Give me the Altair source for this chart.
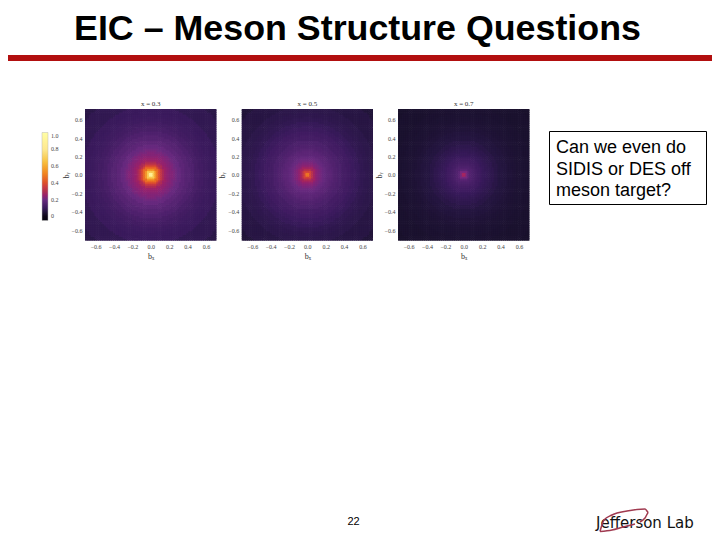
import numpy as np
import pandas as pd
import altair as alt

W, H = 704, 526
OX, OY = 8, 8
SERIF = "Liberation Serif"
SANS = "Liberation Sans"

radii = [0, .02, .04, .06, .08, .10, .12, .14, .16, .18, .20, .225, .25, .275, .30, .35, .40, .45, .50, .55, .60, .65, .70, .80, 1.05]
profile_03 = [1.0, .86, .68, .55, .46, .39, .33, .29, .26, .245, .235, .225, .215, .205, .195, .175, .16, .145, .13, .12, .11, .105, .10, .085, .07]
profile_05 = [.58, .47, .37, .31, .27, .24, .225, .215, .205, .195, .185, .175, .17, .16, .15, .14, .125, .115, .105, .095, .085, .08, .075, .065, .05]
profile_07 = [.34, .27, .21, .17, .15, .14, .13, .125, .115, .11, .10, .095, .09, .085, .08, .07, .06, .055, .05, .045, .042, .04, .038, .035, .03]

panel_titles = ["x = 0.3", "x = 0.5", "x = 0.7"]
panel_left = [85, 241.7, 398]
panel_right = [216.5, 373, 529.5]
panel_top, panel_bottom = 109, 240.7
ticks = [-0.6, -0.4, -0.2, 0.0, 0.2, 0.4, 0.6]
legend_ticks = [0, .2, .4, .6, .8, 1.0]
color_stops = [-0.05, 0, .1, .2, .3, .4, .5, .65, .8, 1.0]
color_range = ["#05030f", "#0d0618", "#3a1a5c", "#6a2a80", "#b0304f", "#dd4f2a", "#f08020", "#f8c040", "#fde890", "#ffffff"]
LIM = 0.715
OVERLAP = 0.007

box_lines = ["Can we even do", "SIDIS or DES off", "meson target?"]
swoosh_x = [600, 604, 612, 627, 645, 648.5, 645, 640]
swoosh_y = [531.5, 520, 515, 511, 509, 512.5, 518, 522]
swoosh2_x = [600, 612, 623, 635]
swoosh2_y = [531.5, 530, 527, 524]

edges = np.linspace(-LIM, LIM, 71)
centres = (edges[:-1] + edges[1:]) / 2


def cells(profile):
    rows = []
    r_arr = np.array(radii)
    for i, cx in enumerate(centres):
        for j, cy in enumerate(centres):
            r = float(np.hypot(cx, cy))
            v = profile[int(np.abs(r_arr - r).argmin())]
            x1 = min(edges[i + 1] + OVERLAP, LIM)
            y1 = min(edges[j + 1] + OVERLAP, LIM)
            rows.append((round(edges[i], 4), round(x1, 4), round(edges[j], 4), round(y1, 4), v))
    return pd.DataFrame(rows, columns=["x0", "x1", "y0", "y1", "v"])


def axfmt():
    return "replace(format(datum.value, '.1f'), '-', '\u2212')"


cscale = alt.Scale(domain=color_stops, range=color_range)
color = alt.Color(
    "v:Q",
    scale=cscale,
    legend=alt.Legend(
        type="gradient", orient="none", legendX=42 - OX, legendY=132.5 - OY, title=None, direction="vertical",
        gradientLength=88, gradientThickness=6, values=legend_ticks, labelFont=SERIF, labelFontSize=6,
        labelColor="#444444", labelOffset=3, gradientStrokeColor="#bbbbbb", gradientStrokeWidth=0.5,
        labelExpr="datum.value == 0 ? '0' : format(datum.value, '.1f')",
    ),
)


def panel(profile, i):
    xs = alt.Scale(domain=[-LIM, LIM], range=[panel_left[i] - OX, panel_right[i] - OX], nice=False)
    ys = alt.Scale(domain=[-LIM, LIM], range=[panel_bottom - OY, panel_top - OY], nice=False)
    return alt.Chart(cells(profile)).mark_rect(stroke=None).encode(
        x=alt.X("x0:Q", scale=xs, axis=alt.Axis(
            values=ticks, orient="bottom", offset=panel_bottom - OY - H, labelExpr=axfmt(), labelFont=SERIF,
            labelFontSize=6, labelColor="#444444", domain=False, ticks=False, grid=False, labelPadding=3,
            title="b\u2093", titleFont=SERIF, titleFontSize=8, titleFontWeight="normal", titleColor="#333333", titlePadding=3,
            labelFlush=False, labelOverlap=False)),
        x2="x1:Q",
        y=alt.Y("y0:Q", scale=ys, axis=alt.Axis(
            values=ticks, orient="left", offset=-(panel_left[i] - OX), labelExpr=axfmt(), labelFont=SERIF,
            labelFontSize=6, labelColor="#444444", domain=False, ticks=False, grid=False, labelPadding=3,
            title="b\u1d67", titleFont=SERIF, titleFontSize=8, titleFontWeight="normal", titleColor="#333333", titlePadding=1,
            labelFlush=False, labelOverlap=False)),
        y2="y1:Q",
        color=color,
    )


one = alt.Data(values=[{}])


def text(s, x, y, size, font=SANS, weight="normal", align="left", col="#000000", baseline="alphabetic"):
    return alt.Chart(one).mark_text(
        text=s, font=font, fontSize=size, fontWeight=weight, align=align, color=col, baseline=baseline
    ).encode(x=alt.value(x - OX), y=alt.value(y - OY))


layers = [
    panel(profile_03, 0),
    panel(profile_05, 1),
    panel(profile_07, 2),
]
bar = alt.Chart(one).mark_rect(color="#b20f0f").encode(
    x=alt.value(0), x2=alt.value(W), y=alt.value(55 - OY), y2=alt.value(61 - OY))
box = alt.Chart(one).mark_rect(fill="#ffffff", stroke="#000000", strokeWidth=1).encode(
    x=alt.value(549.5 - OX), x2=alt.value(706.5 - OX), y=alt.value(131.5 - OY), y2=alt.value(204.5 - OY))

overlay = [bar, box, text("EIC \u2013 Meson Structure Questions", 357.5, 40, 35.8, weight="bold", align="center")]
for t, l, r in zip(panel_titles, panel_left, panel_right):
    overlay.append(text(t, (l + r) / 2, 106, 7, font=SERIF, align="center", col="#333333"))
for k, line in enumerate(box_lines):
    overlay.append(text(line, 556, 153 + k * 21.5, 18))
overlay.append(text("22", 353.5, 525, 11, align="center"))
overlay.append(text("Jefferson Lab", 596, 528, 15, font="DejaVu Sans", col="#111111"))

sw = pd.DataFrame({"px": swoosh_x, "py": swoosh_y})
sw["px"] -= OX
sw["py"] -= OY
sw2 = pd.DataFrame({"px": swoosh2_x, "py": swoosh2_y})
sw2["px"] -= OX
sw2["py"] -= OY
for d in (sw, sw2):
    overlay.append(alt.Chart(d.reset_index()).mark_line(color="#a03a50", strokeWidth=1.5, interpolate="monotone").encode(
        x=alt.X("px:Q", scale=None, axis=None),
        y=alt.Y("py:Q", scale=None, axis=None),
        order="index:O",
    ))

chart = alt.layer(*layers, *overlay).resolve_scale(x="independent", y="independent", color="shared").properties(
    width=W, height=H, padding=0, autosize=alt.AutoSizeParams(type="none")
).configure_view(stroke=None)

chart.save("out.html", embed_options={"renderer": "svg", "actions": False})
